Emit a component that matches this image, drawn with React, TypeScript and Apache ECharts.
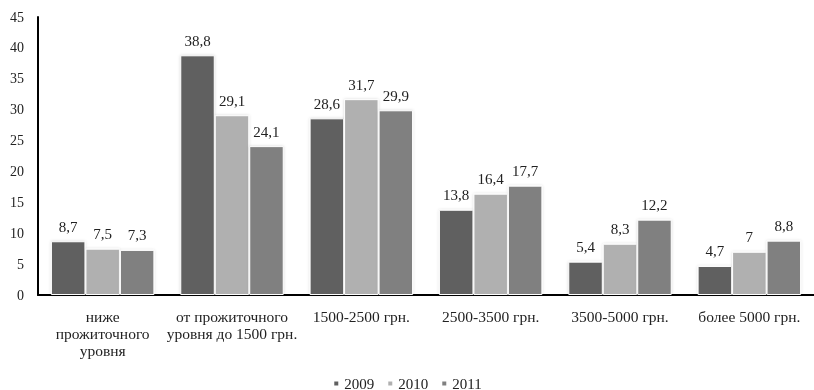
import React, { useEffect, useRef } from "react";
import * as echarts from "echarts";

const categories = [
  "ниже\nпрожиточного\nуровня",
  "от прожиточного\nуровня до 1500 грн.",
  "1500-2500 грн.",
  "2500-3500 грн.",
  "3500-5000 грн.",
  "более 5000 грн.",
];
const years = ["2009", "2010", "2011"];
const values2009 = [8.7, 38.8, 28.6, 13.8, 5.4, 4.7];
const values2010 = [7.5, 29.1, 31.7, 16.4, 8.3, 7];
const values2011 = [7.3, 24.1, 29.9, 17.7, 12.2, 8.8];
const colors = ["#606060", "#b0b0b0", "#808080"];

const FONT = "Liberation Serif";

export default function App() {
  const ref = useRef<HTMLDivElement>(null);
  useEffect(() => {
    if (!ref.current) return;
    document.body.style.margin = "0";
    document.body.style.overflow = "hidden";
    const chart = echarts.init(ref.current, undefined, { renderer: "svg" });
    const all = [values2009, values2010, values2011];
    chart.setOption({
      animation: false,
      textStyle: { fontFamily: FONT },
      grid: { left: 38, top: 17, width: 785, bottom: 95, containLabel: false },
      legend: {
        top: 376,
        left: "center",
        padding: 0,
        itemWidth: 6,
        itemHeight: 6,
        itemGap: 12,
        icon: "rect",
        textStyle: { fontFamily: FONT, fontSize: 15, color: "#222" },
        data: years,
      },
      xAxis: {
        type: "category",
        data: categories,
        axisLine: { lineStyle: { color: "#000", width: 2 } },
        axisTick: { show: false },
        axisLabel: {
          fontFamily: FONT,
          fontSize: 15.5,
          color: "#222",
          lineHeight: 17,
          margin: 13,
          interval: 0,
        },
      },
      yAxis: {
        type: "value",
        min: 0,
        max: 45,
        interval: 5,
        splitLine: { show: false },
        axisLine: { show: true, lineStyle: { color: "#000", width: 2 } },
        axisTick: { show: false },
        axisLabel: { fontFamily: FONT, fontSize: 14, color: "#222", margin: 14 },
      },
      series: years.map((y, i) => ({
        name: y,
        type: "bar",
        data: all[i],
        barGap: "0%",
        barCategoryGap: "20%",
        itemStyle: {
          color: colors[i],
          borderColor: "#fff",
          borderWidth: 1,
          shadowColor: "rgba(0,0,0,0.15)",
          shadowBlur: 3,
        },
        label: {
          show: true,
          position: "top",
          distance: 7,
          fontFamily: FONT,
          fontSize: 15,
          color: "#222",
          formatter: (p: any) => String(p.value).replace(".", ","),
        },
      })),
    });
    return () => chart.dispose();
  }, []);
  return (
    <div
      ref={ref}
      style={{ position: "fixed", left: 0, top: 0, width: 814, height: 390 }}
    />
  );
}
